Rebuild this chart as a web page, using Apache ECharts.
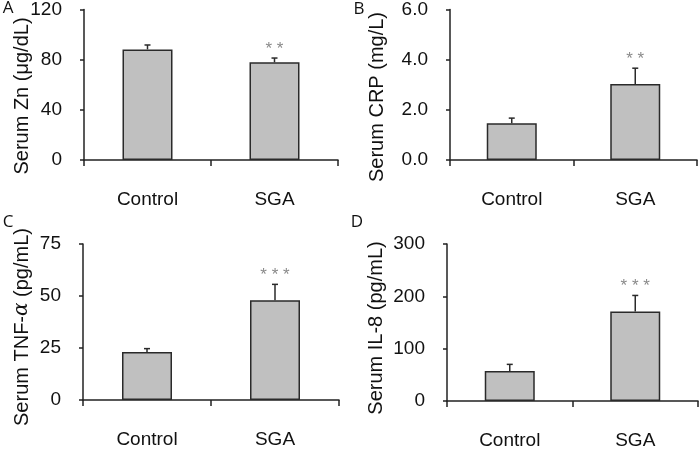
<!DOCTYPE html>
<html>
<head>
<meta charset="utf-8">
<script src="https://cdn.jsdelivr.net/npm/echarts@6/dist/echarts.min.js"></script>
<style>html,body{margin:0;padding:0;background:#fff;}#c{width:700px;height:450px;}</style>
</head>
<body>
<div id="c"></div>
<script>
const categories = ['Control', 'SGA'];

const znMean = [88.2, 77.9];
const znErr = [3.5, 3.4];
const znSig = ['', '* *'];
const znAxis = [0, 120, 40];

const crpMean = [1.47, 3.03];
const crpErr = [0.2, 0.63];
const crpSig = ['', '* *'];
const crpAxis = [0, 6, 2];

const tnfMean = [23.1, 47.9];
const tnfErr = [1.6, 7.7];
const tnfSig = ['', '* * *'];
const tnfAxis = [0, 75, 25];

const il8Mean = [57.5, 170.9];
const il8Err = [12.5, 30.8];
const il8Sig = ['', '* * *'];
const il8Axis = [0, 300, 100];

const panelLetters = ['A', 'B', 'C', 'D'];

const FONT = 'Liberation Sans, Arial, sans-serif';
const grids = [
  {left: 84, top: 9, width: 254, height: 151},
  {left: 450, top: 9, width: 247, height: 151},
  {left: 83, top: 244, width: 256, height: 156},
  {left: 447, top: 244, width: 251, height: 159}
];
const panels = [
  {mean: znMean, err: znErr, sig: znSig, axis: znAxis, dec: 0},
  {mean: crpMean, err: crpErr, sig: crpSig, axis: crpAxis, dec: 1},
  {mean: tnfMean, err: tnfErr, sig: tnfSig, axis: tnfAxis, dec: 0},
  {mean: il8Mean, err: il8Err, sig: il8Sig, axis: il8Axis, dec: 0}
];

const xAxis = [], yAxis = [], series = [];
panels.forEach((p, k) => {
  xAxis.push({
    type: 'category', gridIndex: k, data: categories,
    axisLine: {show: true, lineStyle: {color: '#222', width: 1.5}},
    axisTick: {show: true, length: 6, lineStyle: {color: '#222', width: 1.5}},
    axisLabel: {margin: 30, fontSize: 19, color: '#111', fontFamily: FONT}
  });
  yAxis.push({
    type: 'value', gridIndex: k, min: p.axis[0], max: p.axis[1], interval: p.axis[2],
    splitLine: {show: false},
    axisLine: {show: true, lineStyle: {color: '#222', width: 1.5}},
    axisTick: {show: true, length: 4, lineStyle: {color: '#222', width: 1.5}},
    axisLabel: {margin: 22, fontSize: 19, color: '#111', fontFamily: FONT,
      formatter: v => v.toFixed(p.dec)}
  });
  series.push({
    type: 'bar', xAxisIndex: k, yAxisIndex: k, barWidth: 50,
    data: p.mean,
    itemStyle: {color: '#c0c0c0', borderColor: '#2a2a2a', borderWidth: 1.5},
    silent: true
  });
  series.push({
    type: 'custom', xAxisIndex: k, yAxisIndex: k, silent: true, z: 5,
    data: categories.map((c, i) => [i, p.mean[i], p.mean[i] + p.err[i]]),
    renderItem: (params, api) => {
      const i = params.dataIndex;
      const base = api.coord([api.value(0), api.value(1)]);
      const top = api.coord([api.value(0), api.value(2)]);
      const children = [
        {type: 'line', shape: {x1: base[0], y1: base[1], x2: top[0], y2: top[1]},
         style: {stroke: '#2a2a2a', lineWidth: 1.5}},
        {type: 'line', shape: {x1: top[0] - 3, y1: top[1], x2: top[0] + 3, y2: top[1]},
         style: {stroke: '#2a2a2a', lineWidth: 1.5}}
      ];
      const s = p.sig[i];
      if (s) {
        children.push({type: 'text', style: {text: s, x: top[0], y: top[1] - 9,
          textAlign: 'center', textVerticalAlign: 'middle', fill: '#8a8a8a',
          font: '17px ' + FONT}});
      }
      return {type: 'group', children};
    }
  });
});

const titles = [
  {x: 22, y: 96, text: 'Serum Zn (μg/dL)'},
  {x: 377, y: 97, text: 'Serum CRP (mg/L)'},
  {x: 22, y: 327, rich: true},
  {x: 376, y: 328, text: 'Serum IL-8 (pg/mL)'}
];
const graphic = [];
titles.forEach(t => {
  if (t.rich) {
    graphic.push({type: 'text', x: t.x, y: t.y, rotation: Math.PI / 2,
      style: {text: '{a|Serum TNF-}{b|α}{a| (pg/mL)}', align: 'center', verticalAlign: 'middle',
        rich: {a: {fontSize: 20, fontFamily: FONT, fill: '#111'},
               b: {fontSize: 20, fontFamily: 'DejaVu Serif, serif', fontStyle: 'italic', fill: '#111'}}}});
  } else {
    graphic.push({type: 'text', x: t.x, y: t.y, rotation: Math.PI / 2,
      style: {text: t.text, align: 'center', verticalAlign: 'middle', fontSize: 20, fontFamily: FONT, fill: '#111'}});
  }
});
const letterPos = [[8, 8], [359, 9], [8, 222], [357, 222]];
panelLetters.forEach((l, i) => {
  graphic.push({type: 'text', x: letterPos[i][0], y: letterPos[i][1],
    style: {text: l, align: 'center', verticalAlign: 'middle', fontSize: 17, fontFamily: 'Open Sans, ' + FONT, fill: '#111'}});
});

const chart = echarts.init(document.getElementById('c'), null, {renderer: 'canvas'});
chart.setOption({
  animation: false,
  backgroundColor: '#fff',
  grid: grids.map(g => Object.assign({containLabel: false}, g)),
  xAxis, yAxis, series, graphic
});
</script>
</body>
</html>
